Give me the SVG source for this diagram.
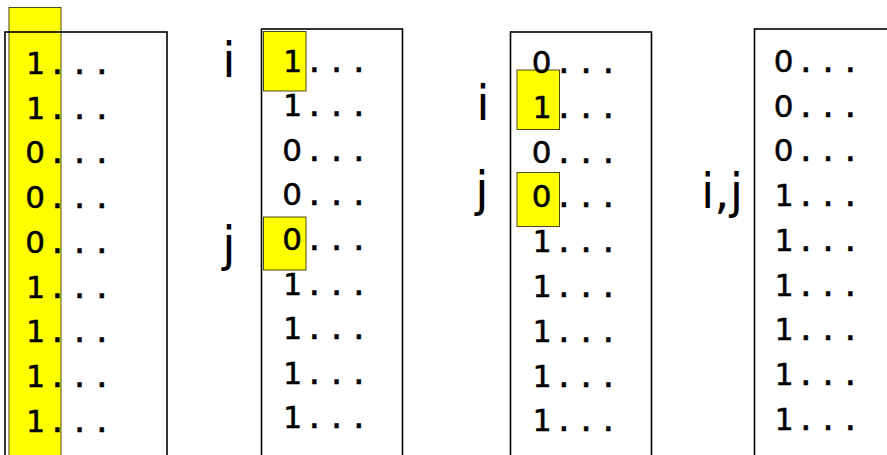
<svg xmlns="http://www.w3.org/2000/svg" width="887" height="455" viewBox="0 0 887 455">
<style>
.box{fill:none;stroke:#000;stroke-width:1.6}
.hl{fill:#ffff00;stroke:#4a4a1a;stroke-width:1}
.lbl{font-family:"DejaVu Sans","Liberation Sans",sans-serif;font-size:48px;fill:#000;text-anchor:middle}
</style>
<rect width="887" height="455" fill="#fff"/>
<g id="col1">
<rect class="hl" x="9" y="7.5" width="52" height="460"/>
<rect class="box" x="5" y="32" width="162" height="440"/>
</g>
<g id="col2">
<rect class="box" x="261.5" y="29" width="141" height="440"/>
<rect class="hl" x="263.5" y="31.5" width="42.5" height="59.5"/>
<rect class="hl" x="263.5" y="217" width="42.5" height="53"/>
<text class="lbl" x="229" y="77">i</text>
<text class="lbl" x="229" y="261">j</text>
</g>
<g id="col3">
<rect class="box" x="510.5" y="32" width="141" height="440"/>
<rect class="hl" x="517" y="70" width="42.5" height="59.5"/>
<rect class="hl" x="517" y="172.5" width="42.5" height="54"/>
<text class="lbl" x="483" y="120">i</text>
<text class="lbl" x="482" y="206">j</text>
</g>
<g id="col4">
<rect class="box" x="754.5" y="29" width="145" height="440"/>
<text class="lbl" x="722" y="208">i,j</text>
</g>
<g id="values-mono" font-family="DejaVu Sans Mono, monospace" font-size="31" fill="#000" stroke="#000" stroke-width="0.5" text-anchor="middle">
<text x="35 57.3 79.6 101.9" y="74">1...</text>
<text x="35 57.3 79.6 101.9" y="118.7">1...</text>
<text x="57.3 79.6 101.9" y="163.4">...</text>
<text x="57.3 79.6 101.9" y="208.1">...</text>
<text x="57.3 79.6 101.9" y="252.8">...</text>
<text x="35 57.3 79.6 101.9" y="297.5">1...</text>
<text x="35 57.3 79.6 101.9" y="342.2">1...</text>
<text x="35 57.3 79.6 101.9" y="386.9">1...</text>
<text x="35 57.3 79.6 101.9" y="431.6">1...</text>
<text x="292 314.3 336.6 358.9" y="71.5">1...</text>
<text x="292 314.3 336.6 358.9" y="116.1">1...</text>
<text x="314.3 336.6 358.9" y="160.7">...</text>
<text x="314.3 336.6 358.9" y="205.3">...</text>
<text x="314.3 336.6 358.9" y="249.9">...</text>
<text x="292 314.3 336.6 358.9" y="294.5">1...</text>
<text x="292 314.3 336.6 358.9" y="339.1">1...</text>
<text x="292 314.3 336.6 358.9" y="383.7">1...</text>
<text x="292 314.3 336.6 358.9" y="428.3">1...</text>
<text x="563.8 586.1 608.4" y="73">...</text>
<text x="541.5 563.8 586.1 608.4" y="117.8">1...</text>
<text x="563.8 586.1 608.4" y="162.6">...</text>
<text x="563.8 586.1 608.4" y="207.4">...</text>
<text x="541.5 563.8 586.1 608.4" y="252.2">1...</text>
<text x="541.5 563.8 586.1 608.4" y="297">1...</text>
<text x="541.5 563.8 586.1 608.4" y="341.8">1...</text>
<text x="541.5 563.8 586.1 608.4" y="386.6">1...</text>
<text x="541.5 563.8 586.1 608.4" y="431.4">1...</text>
<text x="805.8 828.1 850.4" y="72">...</text>
<text x="805.8 828.1 850.4" y="116.7">...</text>
<text x="805.8 828.1 850.4" y="161.4">...</text>
<text x="783.5 805.8 828.1 850.4" y="206.1">1...</text>
<text x="783.5 805.8 828.1 850.4" y="250.8">1...</text>
<text x="783.5 805.8 828.1 850.4" y="295.5">1...</text>
<text x="783.5 805.8 828.1 850.4" y="340.2">1...</text>
<text x="783.5 805.8 828.1 850.4" y="384.9">1...</text>
<text x="783.5 805.8 828.1 850.4" y="429.6">1...</text>
</g>
<g id="values-zero" font-family="DejaVu Sans, sans-serif" font-size="31" fill="#000" stroke="#000" stroke-width="0.5" text-anchor="middle">
<text x="35" y="163.4">0</text>
<text x="35" y="208.1">0</text>
<text x="35" y="252.8">0</text>
<text x="292" y="160.7">0</text>
<text x="292" y="205.3">0</text>
<text x="292" y="249.9">0</text>
<text x="541.5" y="73">0</text>
<text x="541.5" y="162.6">0</text>
<text x="541.5" y="207.4">0</text>
<text x="783.5" y="72">0</text>
<text x="783.5" y="116.7">0</text>
<text x="783.5" y="161.4">0</text>
</g>
<g id="connectors"></g>
</svg>
